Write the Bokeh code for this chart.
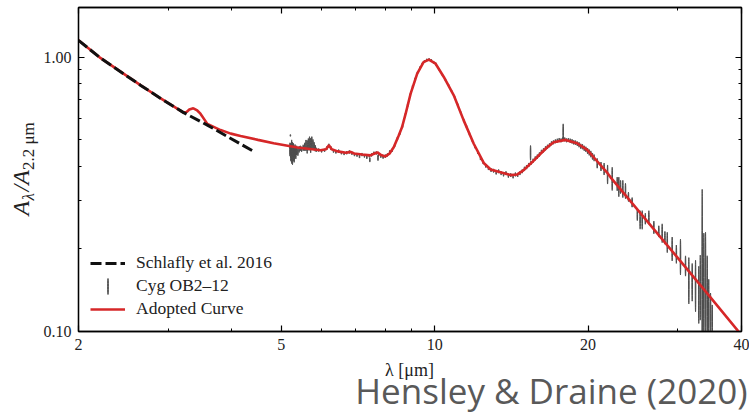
import math
from bokeh.plotting import figure
from bokeh.layouts import row, column
from bokeh.models import (FixedTicker, LogAxis, PrintfTickFormatter, Label,
                          Legend, LegendItem, ColumnDataSource, Range1d)
from bokeh.embed import file_html
from bokeh.resources import INLINE

# ---------------- data ----------------
x_major = [2, 5, 10, 20, 40]
x_minor = [3, 4, 6, 7, 8, 9, 30]
y_major = [0.1, 1.0]
y_minor = [0.2, 0.3, 0.4, 0.5, 0.6, 0.7, 0.8, 0.9]

# Schlafly et al. 2016 (black dashed)
schl_wl = [2.0, 2.2, 2.45, 2.65, 2.9, 3.21, 3.58, 3.98, 4.41]
schl_val = [1.154, 1.0, 0.872, 0.79, 0.708, 0.630, 0.566, 0.506, 0.454]

# Adopted curve (red)
adopt_wl = [2.0, 2.2, 2.65, 2.9, 3.21, 3.26, 3.30, 3.36, 3.42, 3.47, 3.58, 3.8,
            3.98, 4.16, 4.5, 4.83, 5.38, 5.97, 6.12, 6.2, 6.28, 6.45, 6.7, 6.84,
            6.95, 7.2, 7.48, 7.62, 7.72, 7.85, 8.0, 8.15, 8.31, 8.5, 8.63, 8.77,
            8.97, 9.24, 9.51, 9.74, 10.04, 10.42, 10.9, 11.4, 11.93, 12.48, 12.88,
            13.46, 14.08, 14.52, 14.93, 15.54, 16.13, 16.63, 17.12, 18.06, 19.03,
            19.92, 20.49, 21.84, 22.14, 29.96, 34.0, 40.0]
adopt_val = [1.154, 1.0, 0.79, 0.708, 0.630, 0.632, 0.645, 0.652, 0.640, 0.623,
             0.572, 0.543, 0.527, 0.517, 0.500, 0.486, 0.469, 0.458, 0.462, 0.478,
             0.462, 0.454, 0.449, 0.452, 0.446, 0.442, 0.439, 0.446, 0.450, 0.440,
             0.435, 0.445, 0.470, 0.519, 0.557, 0.623, 0.737, 0.872, 0.961, 0.981,
             0.948, 0.848, 0.727, 0.589, 0.484, 0.412, 0.390, 0.381, 0.372, 0.374,
             0.387, 0.415, 0.445, 0.470, 0.490, 0.500, 0.486, 0.460, 0.433, 0.378,
             0.365, 0.186, 0.140, 0.097]

# Cyg OB2-12 spectrum with error bars
cyg_wl = [5.20, 5.21, 5.22, 5.24, 5.26, 5.28, 5.30, 5.32, 5.34, 5.36, 5.39, 5.42,
          5.45, 5.48, 5.52, 5.56, 5.59, 5.62, 5.65, 5.68, 5.71, 5.74, 5.77, 5.80,
          5.83, 5.86,
          5.92, 6.0, 6.08, 6.15, 6.2, 6.26, 6.33, 6.4, 6.48, 6.56, 6.64, 6.72, 6.8,
          6.88, 6.96, 7.04, 7.12, 7.2, 7.28, 7.36, 7.44, 7.46, 7.52, 7.6, 7.68,
          7.74, 7.76, 7.84, 7.92, 8.0, 8.08, 8.16,
          8.25, 8.35, 8.45, 8.55, 8.65, 8.75, 8.85, 8.95, 9.05, 9.15, 9.25, 9.35,
          9.45, 9.55, 9.65, 9.75, 9.85, 9.95, 10.05, 10.2, 10.35, 10.5, 10.65,
          10.8, 10.95, 11.1, 11.25, 11.4, 11.55, 11.7, 11.85, 12.0, 12.15, 12.3,
          12.45, 12.6, 12.75, 12.9, 13.05, 13.2, 13.35, 13.5, 13.65, 13.8, 13.95,
          14.1, 14.25, 14.4, 14.55, 14.7, 14.85, 15.0, 15.15, 15.3, 15.42, 15.45,
          15.6, 15.75, 15.9, 16.05, 16.2, 16.35, 16.5, 16.65, 16.8, 16.95, 17.1,
          17.25, 17.4, 17.55, 17.7, 17.85, 17.87, 18.0, 18.15, 18.3, 18.45, 18.6,
          18.75, 18.9, 19.05, 19.2, 19.35, 19.5, 19.65, 19.8, 19.95, 20.1, 20.25,
          20.4, 20.55,
          20.84, 21.2, 21.5, 21.84, 22.3, 22.81, 22.98, 23.16, 23.4, 23.68, 24.0,
          24.4, 24.98, 25.3, 25.54, 25.9, 26.32, 26.92, 27.53, 27.95, 28.3, 28.6,
          29.24, 29.8, 30.36, 31.06, 31.53, 32.01, 32.5, 32.98, 33.2, 33.49, 33.74,
          34.0, 34.26, 34.5, 34.78, 35.04]
cyg_val = [0.462, 0.519, 0.452, 0.455, 0.448, 0.452, 0.444, 0.455, 0.448, 0.458,
           0.452, 0.462, 0.466, 0.462, 0.468, 0.472, 0.478, 0.472, 0.482, 0.486,
           0.478, 0.490, 0.482, 0.474, 0.466, 0.460,
           0.459, 0.456, 0.458, 0.468, 0.476, 0.466, 0.455, 0.452, 0.455, 0.449,
           0.446, 0.449, 0.452, 0.447, 0.442, 0.440, 0.436, 0.442, 0.437, 0.433,
           0.438, 0.423, 0.441, 0.447, 0.448, 0.430, 0.441, 0.436, 0.433, 0.436,
           0.441, 0.452,
           0.458, 0.478, 0.505, 0.530, 0.562, 0.612, 0.668, 0.728, 0.782, 0.832,
           0.876, 0.915, 0.945, 0.966, 0.978, 0.982, 0.975, 0.960, 0.946, 0.905,
           0.866, 0.828, 0.790, 0.750, 0.713, 0.670, 0.628, 0.590, 0.558, 0.526,
           0.498, 0.472, 0.450, 0.428, 0.414, 0.402, 0.394, 0.388, 0.386, 0.380,
           0.384, 0.378, 0.374, 0.378, 0.370, 0.372, 0.368, 0.374, 0.372, 0.378,
           0.384, 0.392, 0.398, 0.405, 0.449, 0.412, 0.420, 0.428, 0.434, 0.442,
           0.452, 0.458, 0.466, 0.472, 0.478, 0.486, 0.490, 0.494, 0.497, 0.500,
           0.498, 0.503, 0.535, 0.502, 0.498, 0.500, 0.496, 0.494, 0.490, 0.488,
           0.484, 0.480, 0.474, 0.472, 0.466, 0.462, 0.456, 0.450, 0.444, 0.436,
           0.430,
           0.411, 0.400, 0.392, 0.375, 0.362, 0.346, 0.338, 0.337, 0.332, 0.326,
           0.310, 0.296, 0.267, 0.256, 0.256, 0.258, 0.261, 0.240, 0.232, 0.229,
           0.220, 0.212, 0.201, 0.192, 0.189, 0.174, 0.156, 0.153, 0.150, 0.140,
           0.150, 0.200, 0.160, 0.160, 0.140, 0.120, 0.118, 0.110]
cyg_err = [0.026, 0.004, 0.034, 0.045, 0.042, 0.034, 0.030, 0.026, 0.022, 0.018,
           0.014, 0.012, 0.010, 0.010, 0.012, 0.016, 0.022, 0.026, 0.024, 0.028,
           0.030, 0.024, 0.020, 0.016, 0.012, 0.008,
           0.006, 0.006, 0.006, 0.007, 0.008, 0.007, 0.006, 0.006, 0.006, 0.006,
           0.006, 0.006, 0.006, 0.006, 0.006, 0.006, 0.007, 0.006, 0.006, 0.007,
           0.006, 0.008, 0.006, 0.006, 0.006, 0.010, 0.006, 0.006, 0.006, 0.006,
           0.006, 0.006,
           0.006, 0.006, 0.007, 0.007, 0.008, 0.008, 0.009, 0.009, 0.010, 0.010,
           0.010, 0.010, 0.010, 0.010, 0.010, 0.010, 0.010, 0.010, 0.010, 0.009,
           0.009, 0.009, 0.008, 0.008, 0.008, 0.008, 0.007, 0.007, 0.007, 0.007,
           0.006, 0.006, 0.006, 0.006, 0.006, 0.006, 0.006, 0.006, 0.006, 0.006,
           0.006, 0.006, 0.006, 0.006, 0.006, 0.006, 0.006, 0.006, 0.006, 0.006,
           0.006, 0.007, 0.007, 0.007, 0.028, 0.007, 0.007, 0.007, 0.008, 0.008,
           0.008, 0.008, 0.008, 0.008, 0.008, 0.008, 0.008, 0.008, 0.008, 0.008,
           0.008, 0.008, 0.037, 0.008, 0.008, 0.008, 0.009, 0.009, 0.009, 0.009,
           0.009, 0.010, 0.010, 0.010, 0.010, 0.010, 0.011, 0.011, 0.012, 0.012,
           0.012,
           0.017, 0.015, 0.020, 0.030, 0.035, 0.020, 0.028, 0.019, 0.024, 0.021,
           0.012, 0.012, 0.013, 0.020, 0.020, 0.012, 0.015, 0.013, 0.011, 0.018,
           0.012, 0.018, 0.020, 0.015, 0.028, 0.015, 0.030, 0.024, 0.032, 0.033,
           0.040, 0.130, 0.070, 0.070, 0.050, 0.035, 0.020, 0.015]

# ---------------- styling constants ----------------
SERIF = "Liberation Serif"
RED = "#d62728"
GRAY = "#4d4d4d"
INK = "#222222"

W, H = 749, 413
YSTRIP = 40          # left strip holding the y-axis title
BOTTOM = 56          # bottom strip holding x-axis title and credit
MAIN_H = H - BOTTOM


def strip(width, height):
    f = figure(width=width, height=height, output_backend="svg",
               toolbar_location=None, min_border=0,
               x_axis_location=None, y_axis_location=None,
               x_range=Range1d(0, 1), y_range=Range1d(0, 1))
    f.grid.visible = False
    f.outline_line_color = None
    f.background_fill_color = "white"
    f.border_fill_color = "white"
    f.frame_align = False
    return f


# ---------------- main plot ----------------
p = figure(width=W - YSTRIP, height=MAIN_H, x_axis_type="log", y_axis_type="log",
           x_range=Range1d(2, 40), y_range=Range1d(0.1, 1.52),
           output_backend="svg", toolbar_location=None,
           min_border_left=78 - YSTRIP, min_border_right=8, min_border_top=7,
           min_border_bottom=MAIN_H - 331)
p.frame_align = False
p.grid.visible = False
p.outline_line_color = "black"
p.outline_line_width = 1.3
p.background_fill_color = "white"
p.border_fill_color = "white"

xb = p.below[0]
yl = p.left[0]
xb.ticker = FixedTicker(ticks=x_major, minor_ticks=x_minor)
yl.ticker = FixedTicker(ticks=y_major, minor_ticks=y_minor)
xb.formatter = PrintfTickFormatter(format="%d")
yl.formatter = PrintfTickFormatter(format="%.2f")

top = LogAxis(ticker=FixedTicker(ticks=x_major, minor_ticks=x_minor),
              major_label_text_font_size="1px", major_label_standoff=0,
              major_label_text_color=None)
right = LogAxis(ticker=FixedTicker(ticks=y_major, minor_ticks=y_minor),
                major_label_text_font_size="1px", major_label_standoff=0,
                major_label_text_color=None)
p.add_layout(top, "above")
p.add_layout(right, "right")

for ax in [xb, yl, top, right]:
    ax.axis_line_color = "black"
    ax.axis_line_width = 1.3
    ax.major_tick_in = 6
    ax.major_tick_out = 0
    ax.minor_tick_in = 3
    ax.minor_tick_out = 0
    ax.major_tick_line_color = "black"
    ax.minor_tick_line_color = "black"
    ax.major_tick_line_width = 1.2
    ax.minor_tick_line_width = 1.0

for ax in [xb, yl]:
    ax.major_label_text_font = SERIF
    ax.major_label_text_color = INK
    ax.major_label_text_font_size = "16px"
xb.major_label_standoff = 7
yl.major_label_standoff = 7

# data error bars: thin vertical ellipses spanning val-err .. val+err
lo = [v - e for v, e in zip(cyg_val, cyg_err)]
hi = [v + e for v, e in zip(cyg_val, cyg_err)]
yc = [math.sqrt(a * b) for a, b in zip(lo, hi)]
hh = [2 * c * (b - a) / (b + a) for c, a, b in zip(yc, lo, hi)]
src = ColumnDataSource(dict(x=cyg_wl, y=yc, h=hh))
cyg_r = p.ellipse(x="x", y="y", width=0.6, height="h", width_units="screen",
                  height_units="data", source=src, fill_color=GRAY,
                  line_color=GRAY, line_width=1.0)

red_r = p.line(adopt_wl, adopt_val, line_color=RED, line_width=2.6)
schl_r = p.line(schl_wl, schl_val, line_color="#111111", line_width=3,
                line_dash="11 4")

legend = Legend(items=[
    LegendItem(label="Schlafly et al. 2016", renderers=[schl_r]),
    LegendItem(label="Cyg OB2–12", renderers=[cyg_r]),
    LegendItem(label="Adopted Curve", renderers=[red_r]),
], location=(12, 12), padding=0, margin=0, spacing=2, label_height=20,
   glyph_height=20, glyph_width=35, label_standoff=11,
   label_text_font=SERIF, label_text_font_size="17.5px",
   label_text_color=INK, border_line_color=None,
   background_fill_alpha=0)
p.add_layout(legend)

# ---------------- y-axis title strip:  A_lambda / A_{2.2 um} ----------------
ys = strip(YSTRIP, MAIN_H)


def ylab(text, x, y_canvas, size, style):
    ys.add_layout(Label(x=x, y=MAIN_H - y_canvas, x_units="screen",
                        y_units="screen", text=text, angle=math.pi / 2,
                        text_font=SERIF, text_font_size=size,
                        text_font_style=style, text_color=INK,
                        text_align="left", text_baseline="alphabetic"))


ylab("A", 20, 215, "24px", "italic")
ylab("λ", 28, 200, "17px", "italic")
ylab("/A", 20, 191, "24px", "italic")
ylab("2.2 μm", 28, 169.5, "17px", "normal")

# ---------------- bottom strip: x-axis title and credit ----------------
bs = strip(W, BOTTOM)
bs.add_layout(Label(x=409, y=44, x_units="screen", y_units="screen",
                    text="λ [μm]", text_font=SERIF, text_font_size="18px",
                    text_color=INK, text_align="center",
                    text_baseline="alphabetic"))
bs.add_layout(Label(x=747, y=23, x_units="screen", y_units="screen",
                    text="Hensley & Draine (2020)", text_font="Open Sans",
                    text_font_size="35px", text_color="#595959",
                    text_align="right", text_baseline="alphabetic"))

layout = column(row(ys, p, spacing=0), bs, spacing=0)
open("out.html", "w").write(file_html(layout, INLINE))
